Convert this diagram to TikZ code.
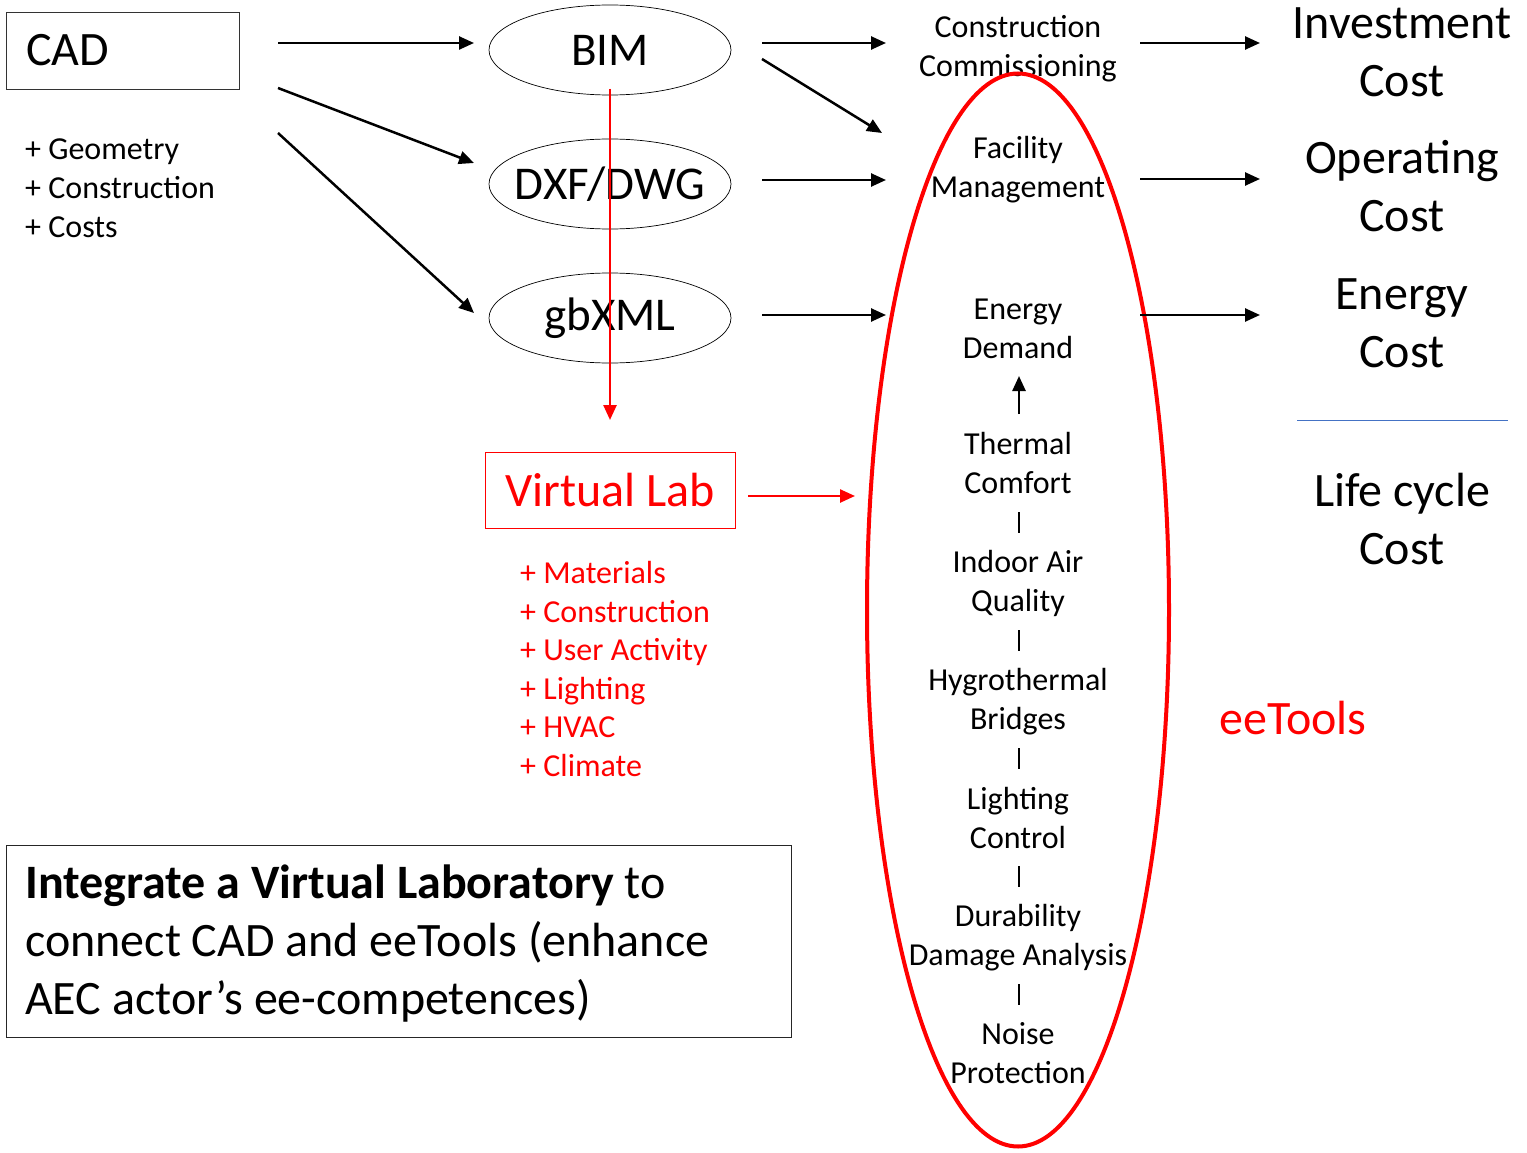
\documentclass[tikz,border=0pt]{standalone}
\usepackage{fontspec}
\setmainfont{Carlito}
\usetikzlibrary{arrows.meta,shapes.geometric,calc}
\begin{document}
\begin{tikzpicture}[x=1pt,y=-1pt,
  arr/.style={line width=2.5pt,-{Triangle[length=15pt,width=13pt]}},
  rarr/.style={arr,draw=red,fill=red},
  big/.style={font=\fontsize{48}{58}\selectfont,align=center,inner sep=0pt},
  mid/.style={font=\fontsize{32}{39}\selectfont,align=center,inner sep=0pt},
  fmt/.style={ellipse,draw,line width=0.7pt,minimum width=242pt,minimum height=90pt,
    inner sep=-30pt,font=\fontsize{47}{56}\selectfont},
  tick/.style={line width=2pt}]
\useasboundingbox (0,0) rectangle (1527,1153);

% CAD source and its attributes
\node[draw=black!80,line width=0.8pt,anchor=west,minimum height=77pt,inner xsep=20pt,
  text width=193pt,align=flush left,font=\fontsize{48}{56}\selectfont] (cad) at (6,50.5) {CAD};
\node[mid,align=flush left,anchor=west] (cadnotes) at (25,188) {+ Geometry\\+ Construction\\+ Costs};

% exchange formats
\node[fmt] (bim) at (610,50) {BIM};
\node[fmt] (dxf) at (610,184) {DXF/DWG};
\node[fmt] (gbxml) at (610,318) {gbXML};

\coordinate (c1s) at (278,43);  \coordinate (c1e) at (474,43);
\coordinate (c2s) at (278,88);  \coordinate (c2e) at (474,163);
\coordinate (c3s) at (278,133); \coordinate (c3e) at (474,313);
\draw[arr] (c1s) -- (c1e);
\draw[arr] (c2s) -- (c2e);
\draw[arr] (c3s) -- (c3e);

% eeTools column
\node[mid] (cc) at (1018,49) {Construction\\Commissioning};
\node[mid] (fm) at (1018,169.5) {Facility\\Management};
\node[mid] (ed) at (1018,328.5) {Energy\\Demand};
\node[mid] (tc) at (1018,463.5) {Thermal\\Comfort};
\node[mid] (iaq) at (1018,583.5) {Indoor Air\\Quality};
\node[mid] (hb) at (1018,701.5) {Hygrothermal\\Bridges};
\node[mid] (lc) at (1018,818.5) {Lighting\\Control};
\node[mid] (dd) at (1018,937.5) {Durability\\Damage Analysis};
\node[mid] (np) at (1018,1053.5) {Noise\\Protection};

\node[ellipse,draw=red,line width=4pt,minimum width=302pt,minimum height=1073pt,inner sep=0pt]
  (eetools) at (1018,610) {};
\node[font=\fontsize{48}{56}\selectfont,text=red,inner sep=0pt] (eelabel) at (1293,718) {eeTools};

\coordinate (b1s) at (762,43);  \coordinate (b1e) at (886,43);
\coordinate (b2s) at (762,59);  \coordinate (b2e) at (882,133);
\coordinate (d1s) at (762,180); \coordinate (d1e) at (886,180);
\coordinate (g1s) at (762,315); \coordinate (g1e) at (886,315);
\draw[arr] (b1s) -- (b1e);
\draw[arr] (b2s) -- (b2e);
\draw[arr] (d1s) -- (d1e);
\draw[arr] (g1s) -- (g1e);

\coordinate (tcup) at (1019,414); \coordinate (edlow) at (1019,376);
\draw[arr] (tcup) -- (edlow);
\foreach \y in {512,630,748,866,984}
  \draw[tick] (1019,\y) -- (1019,\y+21);

% cost outcomes
\node[big] (inv) at (1402,52.5) {Investment\\Cost};
\node[big] (op) at (1402,186) {Operating\\Cost};
\node[big] (en) at (1402,323.5) {Energy\\Cost};
\node[big] (lcc) at (1402,519) {Life cycle\\Cost};
\coordinate (sepl) at (1297,420); \coordinate (sepr) at (1508,420);
\draw[line width=1pt,draw={rgb,255:red,68;green,114;blue,196}] (sepl) -- (sepr);

\coordinate (i1s) at (1140,43);  \coordinate (i1e) at (1260,43);
\coordinate (o1s) at (1140,179); \coordinate (o1e) at (1260,179);
\coordinate (e1s) at (1140,315); \coordinate (e1e) at (1260,315);
\draw[arr] (i1s) -- (i1e);
\draw[arr] (o1s) -- (o1e);
\draw[arr] (e1s) -- (e1e);

% virtual laboratory
\node[draw=red,line width=0.8pt,minimum width=250pt,minimum height=76pt,inner sep=0pt,
  text=red,font=\fontsize{48}{56}\selectfont] (vlab) at (610,490) {Virtual Lab};
\node[align=flush left,anchor=west,inner sep=0pt,text=red,font=\fontsize{32}{38.5}\selectfont] (vlabnotes) at (520,669)
  {+ Materials\\+ Construction\\+ User Activity\\+ Lighting\\+ HVAC\\+ Climate};
\coordinate (vtop) at (610,89);
\coordinate (vdown) at (610,420);
\draw[rarr] (vtop) -- (vdown);
\coordinate (vstart) at (748,496);
\coordinate (vright) at (855,496);
\draw[rarr] (vstart) -- (vright);

% summary statement in its frame
\node[draw=black!85,line width=0.8pt,anchor=north west,minimum width=785pt,minimum height=192pt,
  inner sep=0pt] (summaryframe) at (6,845) {};
\node[anchor=west,inner xsep=19pt,inner ysep=0pt,text width=747pt,align=flush left,
  font=\fontsize{48}{58}\selectfont] (summary) at (6,944)
  {\textbf{Integrate a Virtual Laboratory} to\\connect CAD and eeTools (enhance\\AEC actor’s ee-competences)};
\end{tikzpicture}
\end{document}
